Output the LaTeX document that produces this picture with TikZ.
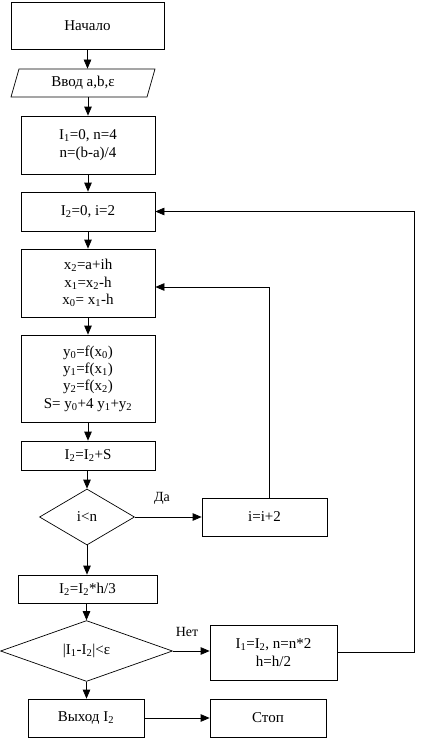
\documentclass[tikz,border=0pt]{standalone}
\usepackage{fontspec}
\setmainfont{Liberation Serif}
\usetikzlibrary{arrows.meta,shapes.geometric}
\newcommand{\sbs}[1]{\textsubscript{#1}}
\tikzset{
  flow line/.style={line width=0.7pt},
  flow box/.style={
    rectangle,
    draw=black,
    line width=0.7pt,
    align=center,
    inner sep=0pt,
    font=\fontsize{15}{17.3}\selectfont
  },
  flow input/.style={
    trapezium,
    trapezium left angle=59,
    trapezium right angle=121,
    trapezium stretches body,
    draw=black,
    line width=0.7pt,
    inner sep=0pt,
    font=\fontsize{15}{17.3}\selectfont
  },
  flow test/.style={
    diamond,
    draw=black,
    line width=0.7pt,
    inner sep=0pt,
    font=\fontsize{15}{17.3}\selectfont
  },
  branch label/.style={font=\fontsize{14}{16}\selectfont,inner sep=0pt},
  next/.style={-{Triangle[length=9pt,width=7.5pt]},line width=0.7pt,draw=black}
}

\begin{document}
\begin{tikzpicture}[x=1pt,y=-1pt]
  \useasboundingbox (0,0) rectangle (429,739);

  % main column
  \node[flow box,minimum width=153,minimum height=47] (start) at (87.5,25.5) {Начало};
  \node[flow input,minimum width=144,minimum height=28] (input) at (83,83) {Ввод a,b,ε};
  \node[flow box,minimum width=134,minimum height=58] (init) at (88,145) {I\sbs{1}=0, n=4\\n=(b-a)/4};
  \node[flow box,minimum width=134,minimum height=39] (loop) at (88,211.5) {I\sbs{2}=0, i=2};
  \node[flow box,minimum width=134,minimum height=68] (xs) at (88,283) {x\sbs{2}=a+ih\\x\sbs{1}=x\sbs{2}-h\\x\sbs{0}= x\sbs{1}-h};
  \node[flow box,minimum width=134,minimum height=87] (ys) at (88,378.5) {y\sbs{0}=f(x\sbs{0})\\y\sbs{1}=f(x\sbs{1})\\y\sbs{2}=f(x\sbs{2})\\S= y\sbs{0}+4 y\sbs{1}+y\sbs{2}};
  \node[flow box,minimum width=134,minimum height=29] (sum) at (88,455.5) {I\sbs{2}=I\sbs{2}+S};
  \node[flow test,minimum width=95,minimum height=56] (test1) at (87,517) {i<n};
  \node[flow box,minimum width=139,minimum height=28] (mul) at (87.5,589) {I\sbs{2}=I\sbs{2}*h/3};
  \node[flow test,minimum width=172,minimum height=56] (test2) at (86.5,651) {|I\sbs{1}-I\sbs{2}|<ε};
  \node[flow box,minimum width=116,minimum height=38] (out) at (86,718) {Выход I\sbs{2}};

  % right column
  \node[flow box,minimum width=125,minimum height=38] (step) at (264.5,517) {i=i+2};
  \node[flow box,minimum width=127,minimum height=55] (refine) at (273.5,652.5) {I\sbs{1}=I\sbs{2}, n=n*2\\h=h/2};
  \node[flow box,minimum width=116,minimum height=38] (stop) at (268,718) {Стоп};

  \node[branch label] (yes) at (162,498) {Да};
  \node[branch label] (no) at (187,632) {Нет};

  % arrows down
  \draw[next] (start.south) -- (start.south |- input.north);
  \draw[next] (input.south -| init.north) -- (init.north);
  \draw[next] (init) -- (loop);
  \draw[next] (loop) -- (xs);
  \draw[next] (xs) -- (ys);
  \draw[next] (ys) -- (sum);
  \draw[next] (sum.south) -- (sum.south -| test1.north) -- (test1.north);
  \draw[next] (test1.south) -- (test1.south |- mul.north);
  \draw[next] (mul.south) -- (mul.south -| test2.north) -- (test2.north);
  \draw[next] (test2.south) -- (test2.south |- out.north);

  % branches
  \draw[next] (test1.east) -- (step.west);
  \draw[next] (test2.east) -- (test2.east -| refine.west);
  \draw[next] (out.east) -- (out.east -| stop.west);

  % loops back
  \draw[next] ([xshift=4.5pt]step.north) |- ([yshift=-4pt]xs.east);
  \coordinate (back) at (414,652.5);
  \draw[next] (refine.east) -- (back) |- (loop.east);
\end{tikzpicture}
\end{document}
